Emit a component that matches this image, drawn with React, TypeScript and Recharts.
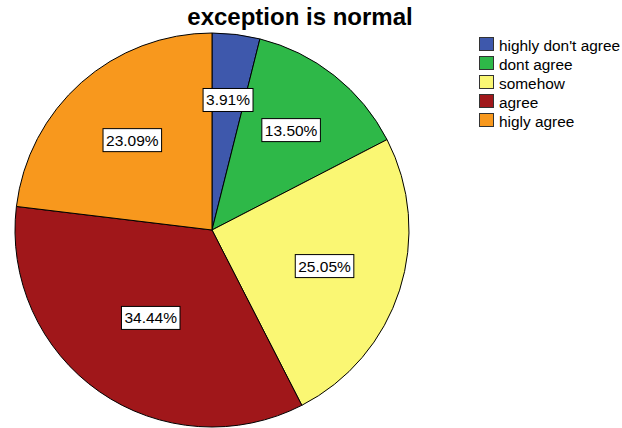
import React from "react";
import { PieChart, Pie, Cell, Legend } from "recharts";

// Response shares for "exception is normal"
const categories = ["highly don't agree", "dont agree", "somehow", "agree", "higly agree"];
const percents = [3.91, 13.5, 25.05, 34.44, 23.09];
const colors = ["#3E58AC", "#2EB848", "#FAF773", "#A0171A", "#F8981D"];

const data = categories.map((name, i) => ({ name, value: percents[i] }));

const FONT = "'Liberation Sans', Arial, sans-serif";
const LABEL_SIZE = 15.5;

// Approximate Arial/Liberation advance widths (em units)
const charWidth = (ch: string) => {
  if (ch === ".") return 0.278;
  if (ch === "%") return 0.889;
  return 0.556;
};
const textWidth = (s: string, size: number) =>
  s.split("").reduce((a, c) => a + charWidth(c), 0) * size;

const RADIAN = Math.PI / 180;

// Label sits on the centroid of its sector
const renderLabel = (props: any) => {
  const { cx, cy, midAngle, outerRadius, startAngle, endAngle, value } = props;
  const sweep = Math.abs(endAngle - startAngle) * RADIAN;
  const r = (4 * outerRadius * Math.sin(sweep / 2)) / (3 * sweep);
  const x = cx + r * Math.cos(-midAngle * RADIAN);
  const y = cy + r * Math.sin(-midAngle * RADIAN);
  const txt = `${value.toFixed(2)}%`;
  const w = textWidth(txt, LABEL_SIZE) + 6;
  const h = 23;
  return (
    <g>
      <rect x={x - w / 2} y={y - h / 2} width={w} height={h} fill="#fff" stroke="#000" strokeWidth={1} />
      <text x={x} y={y} dy={5.5} textAnchor="middle" fontFamily={FONT} fontSize={LABEL_SIZE} fill="#000">
        {txt}
      </text>
    </g>
  );
};

const renderLegend = () => (
  <svg width={148} height={110} style={{ display: "block" }}>
    {categories.map((name, i) => (
      <g key={name}>
        <rect x={5.5} y={7.5 + i * 19} width={14} height={13} fill={colors[i]} stroke="#333" strokeWidth={1} />
        <text x={25} y={21 + i * 19} fontFamily={FONT} fontSize={15.4} fill="#000">
          {name}
        </text>
      </g>
    ))}
  </svg>
);

export default function App() {
  return (
    <div style={{ position: "fixed", left: 0, top: 0, width: 622, height: 428, background: "#fff" }}>
      <div
        style={{
          position: "absolute",
          left: 0,
          width: 600,
          top: 5,
          lineHeight: "24px",
          textAlign: "center",
          fontFamily: FONT,
          fontWeight: "bold",
          fontSize: 24,
          color: "#000",
          zIndex: 1,
        }}
      >
        exception is normal
      </div>
      <PieChart
        width={622}
        height={428}
        margin={{ top: 0, right: 0, bottom: 0, left: 0 }}
        style={{ position: "absolute", left: 0, top: 0 }}
      >
        <Pie
          data={data}
          dataKey="value"
          nameKey="name"
          cx={212}
          cy={230}
          outerRadius={197}
          startAngle={90}
          endAngle={-270}
          stroke="#000"
          strokeWidth={1}
          label={renderLabel}
          labelLine={false}
          isAnimationActive={false}
        >
          {data.map((d, i) => (
            <Cell key={d.name} fill={colors[i]} />
          ))}
        </Pie>
        <Legend
          content={renderLegend}
          layout="vertical"
          wrapperStyle={{ position: "absolute", left: 474, top: 30, width: 148 }}
        />
      </PieChart>
    </div>
  );
}
